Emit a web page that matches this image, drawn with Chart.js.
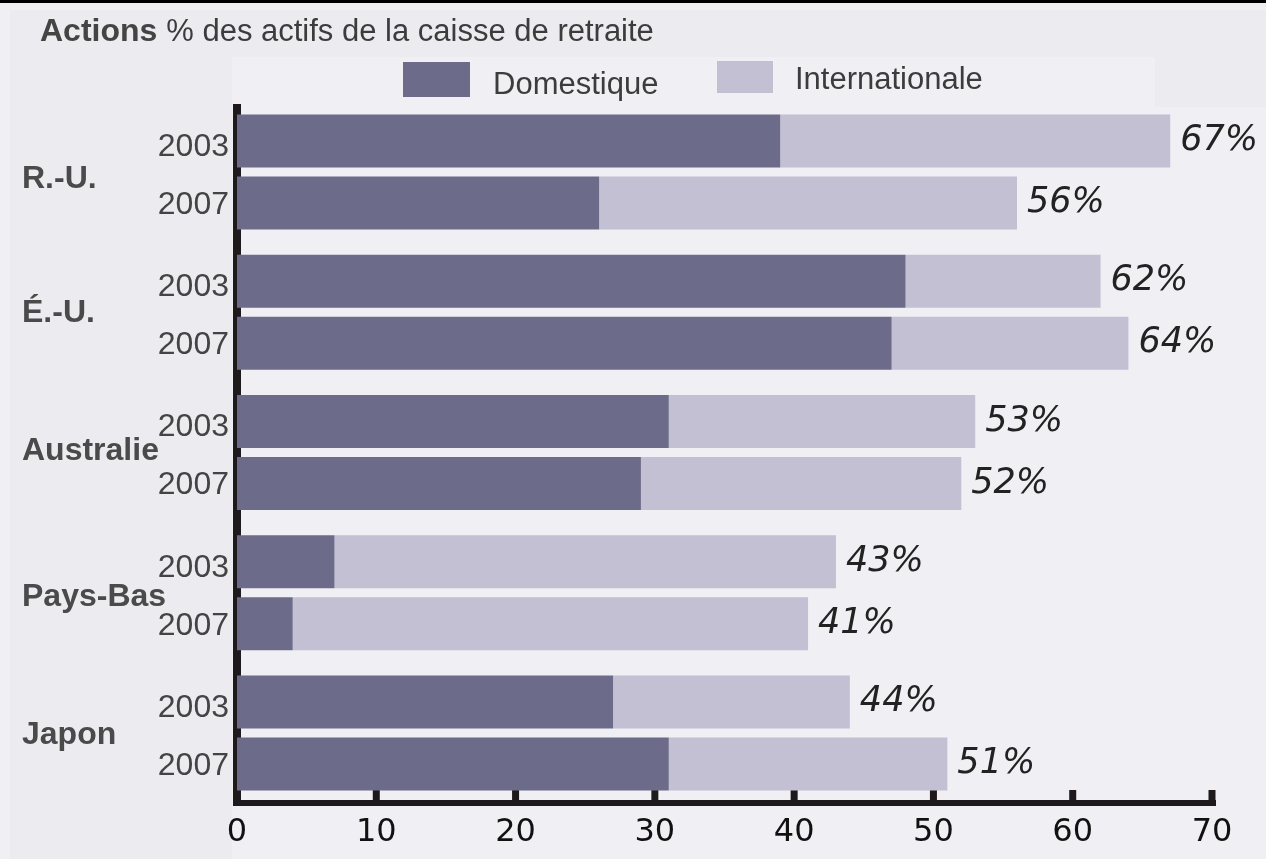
<!DOCTYPE html>
<html>
<head>
<meta charset="utf-8">
<script src="https://cdn.jsdelivr.net/npm/chart.js@4"></script>
<style>
  html, body { margin: 0; padding: 0; background: #f0eff4; }
  #wrap { width: 1266px; height: 859px; position: relative; }
</style>
</head>
<body>
<div id="wrap"><canvas id="barChart"></canvas></div>
<script>
const countries = ['R.-U.', 'É.-U.', 'Australie', 'Pays-Bas', 'Japon'];
const years = ['2003', '2007'];
const seriesNames = ['Domestique', 'Internationale'];
const domestic2003 = [39, 48, 31, 7, 27];
const intl2003 = [28, 14, 22, 36, 17];
const domestic2007 = [26, 47, 29, 4, 31];
const intl2007 = [30, 17, 23, 37, 20];
const xTicks = [0, 10, 20, 30, 40, 50, 60, 70];

const colors = ['#6c6b8a', '#c3c0d3'];
// small vertical nudges for the country names, as in the original
const countryNudge = [7, 1, -1, 4, 2];

const ctx = document.getElementById('barChart').getContext('2d');

const datasets = [
  { label: seriesNames[0], data: domestic2003, backgroundColor: colors[0], stack: years[0] },
  { label: seriesNames[1], data: intl2003, backgroundColor: colors[1], stack: years[0] },
  { label: seriesNames[0], data: domestic2007, backgroundColor: colors[0], stack: years[1] },
  { label: seriesNames[1], data: intl2007, backgroundColor: colors[1], stack: years[1] }
].map(ds => ({ ...ds, borderWidth: 0, categoryPercentage: 0.884, barPercentage: 0.855 }));

// backgrounds, axes, labels drawn by hand around the bars
const decor = {
  id: 'decor',
  beforeDraw(chart) {
    const c = chart.ctx;
    c.save();
    c.fillStyle = '#f0eff4';
    c.fillRect(0, 0, chart.width, chart.height);
    c.fillStyle = '#ecebf0';
    c.fillRect(10, 10, 222, chart.height - 10);
    c.fillRect(10, 10, chart.width - 10, 47);
    c.fillRect(1155, 57, chart.width - 1155, 50);
    c.fillStyle = '#000';
    c.fillRect(0, 0, chart.width, 3);
    c.restore();
  },
  beforeDatasetsDraw(chart) {
    const c = chart.ctx;
    const xs = chart.scales.x;
    const yb = chart.chartArea.bottom;
    const x0 = xs.getPixelForValue(0);
    const xEnd = xs.getPixelForValue(xTicks[xTicks.length - 1]);
    c.save();
    c.fillStyle = '#1e1a1b';
    c.fillRect(x0 - 4, 104, 8, yb + 3 - 104);
    c.fillRect(x0 - 4, yb - 3, xEnd + 4 - (x0 - 4), 6);
    xTicks.forEach(v => {
      if (v === 0) return;
      const px = xs.getPixelForValue(v);
      c.fillRect(px - 3.5, yb - 13, 7, 13);
    });
    c.restore();
  },
  afterDatasetsDraw(chart) {
    const c = chart.ctx;
    const ys = chart.scales.y;
    c.save();

    // totals at bar ends
    c.font = 'italic 35px "DejaVu Sans"';
    c.fillStyle = '#222';
    c.textAlign = 'left';
    c.textBaseline = 'middle';
    [[0, 1], [2, 3]].forEach(([d, i]) => {
      const meta = chart.getDatasetMeta(i);
      meta.data.forEach((bar, k) => {
        const total = chart.data.datasets[d].data[k] + chart.data.datasets[i].data[k];
        c.fillText(total + '%', bar.x + 10, bar.y);
      });
    });

    // year labels
    c.font = '32px "Liberation Sans", Arial';
    c.fillStyle = '#444';
    c.textAlign = 'right';
    [0, 2].forEach((d, j) => {
      chart.getDatasetMeta(d).data.forEach(bar => {
        c.fillText(years[j], 229, bar.y + (j === 0 ? 6 : 2));
      });
    });

    // country labels
    c.font = 'bold 32px "Liberation Sans", Arial';
    c.fillStyle = '#4a4a4a';
    c.textAlign = 'left';
    countries.forEach((name, k) => {
      c.fillText(name, 22, ys.getPixelForValue(k) + countryNudge[k]);
    });

    // title
    c.fillStyle = '#444';
    c.fillText('Actions', 40, 32);
    const w = c.measureText('Actions ').width;
    c.font = '31px "Liberation Sans", Arial';
    c.fillStyle = '#3c3c3c';
    c.fillText('% des actifs de la caisse de retraite', 40 + w, 32);

    // legend
    c.fillStyle = colors[0];
    c.fillRect(403, 62, 67, 35);
    c.fillStyle = colors[1];
    c.fillRect(717, 61, 56, 32);
    c.fillStyle = '#3c3c3c';
    c.fillText(seriesNames[0], 493, 85);
    c.fillText(seriesNames[1], 795, 80);

    c.restore();
  }
};

const chart = new Chart(ctx, {
  type: 'bar',
  data: {
    labels: countries,
    datasets: datasets
  },
  options: {
    indexAxis: 'y',
    responsive: true,
    maintainAspectRatio: false,
    animation: false,
    layout: {
      padding: { left: 237, right: 54, top: 102, bottom: 0 }
    },
    plugins: {
      legend: { display: false },
      tooltip: { enabled: false }
    },
    scales: {
      x: {
        stacked: true,
        min: 0,
        max: 70,
        afterFit: s => { s.height = 56; },
        grid: { display: false, drawTicks: false },
        border: { display: false },
        ticks: {
          stepSize: 10,
          padding: 12,
          color: '#111',
          font: { family: 'DejaVu Sans', size: 32, lineHeight: 1.1 }
        }
      },
      y: {
        stacked: true,
        display: false
      }
    }
  },
  plugins: [decor]
});
</script>
</body>
</html>
